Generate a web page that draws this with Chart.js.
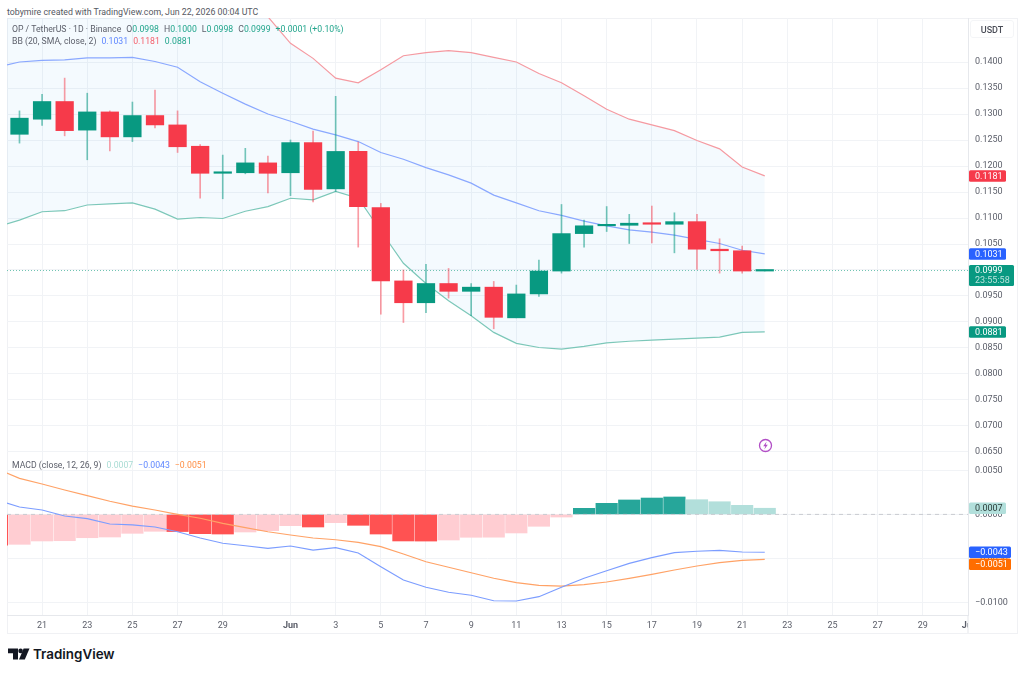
<!DOCTYPE html>
<html lang="en">
<head>
<meta charset="utf-8">
<title>OP / TetherUS 1D</title>
<script src="https://cdn.jsdelivr.net/npm/chart.js@4/dist/chart.umd.min.js"></script>
<style>
  html, body { margin: 0; padding: 0; background: #fff; }
  body { width: 1024px; height: 674px; position: relative; overflow: hidden; font-family: Roboto, "Noto Sans", sans-serif; color: #5d606b; }
  canvas { position: absolute; left: 0; }
  #priceChart { top: 18px; }
  #macdChart { top: 454px; }
  .frame { position: absolute; left: 7px; top: 18px; width: 1009px; height: 614px; border: 1px solid #f0f1f4; }
  .txt { position: absolute; white-space: nowrap; font-size: 8.7px; line-height: 12px; }
  .up { color: #22a58c; }
  .blue { color: #5f87ff; }
  .red { color: #f4606c; }
  .orange { color: #ff8f45; }
  .pale { color: #a9dcd4; }
  .gap { margin-left: 5px; }
  #credit { left: 7px; top: 5.500px; font-size: 8.8px; color: #555862; }
  #unit { left: 970px; top: 20px; width: 44px; height: 18px; line-height: 18px; text-align: center; border: 1px solid #f4f5f7; border-radius: 3px; box-sizing: border-box; color: #4a4d57; font-weight: 500; font-size: 9px; }
  #logoText { left: 33px; top: 645px; font-family: Inter, sans-serif; font-size: 13.4px; line-height: 18px; font-weight: 600; color: #131722; }
  svg { position: absolute; }
</style>
</head>
<body>
<div class="frame"></div>
<canvas id="priceChart" width="1024" height="436"></canvas>
<canvas id="macdChart" width="1024" height="179"></canvas>

<div class="txt" id="credit">tobymire created with TradingView.com, Jun 22, 2026 00:04 UTC</div>
<div class="txt" id="unit">USDT</div>
<div class="txt" style="left:12px;top:23px">OP / TetherUS · 1D · Binance<span class="gap">O</span><span class="up">0.0998</span><span class="gap">H</span><span class="up">0.1000</span><span class="gap">L</span><span class="up">0.0998</span><span class="gap">C</span><span class="up">0.0999</span><span class="up gap">+0.0001 (+0.10%)</span></div>
<div class="txt" style="left:12px;top:35px">BB (20, SMA, close, 2)<span class="blue gap">0.1031</span><span class="red gap">0.1181</span><span class="up gap">0.0881</span></div>
<div class="txt" style="left:12px;top:459px">MACD (close, 12, 26, 9)<span class="pale gap">0.0007</span><span class="blue gap">−0.0043</span><span class="orange gap">−0.0051</span></div>

<!-- bolt marker on the price pane -->
<svg style="left:758px;top:438px" width="15" height="15" viewBox="0 0 15 15">
  <circle cx="7.5" cy="7.5" r="6" fill="#fff" stroke="#b24fc6" stroke-width="1.3"/>
  <path d="M8.6 3.6 5.2 8.2h2.1l-1 3.2 3.5-4.7H7.7z" fill="#b24fc6"/>
</svg>

<!-- wordmark -->
<svg style="left:8px;top:648px" width="22" height="12" viewBox="0 0 22 12">
  <path d="M0 .5h10v11H5V5.2H0z" fill="#131722"/>
  <circle cx="12.6" cy="2.9" r="2.3" fill="#131722"/>
  <path d="M15.6.5H21.500L16.800 11.500H11z" fill="#131722"/>
</svg>
<div class="txt" id="logoText">TradingView</div>

<script>
// ── Days, counted from May 19 = 0 ─────────────────────────────────────────────
const tickDays   = [2, 4, 6, 8, 10, 13, 15, 17, 19, 21, 23, 25, 27, 29, 31, 33, 35, 37, 39, 41, 43];
const tickLabels = ['21', '23', '25', '27', '29', 'Jun', '3', '5', '7', '9', '11', '13', '15', '17', '19', '21', '23', '25', '27', '29', 'Jul'];
const monthTicks = ['Jun', 'Jul'];

// ── Candles ───────────────────────────────────────────────────────────────────
const opens = [null, 0.1261, 0.1290, 0.1324, 0.1269, 0.1304, 0.1256, 0.1297, 0.1279, 0.1238, 0.1186, 0.1187, 0.1206,
    0.1187, 0.1245, 0.1156, 0.1228, 0.1120, 0.0979, 0.0937, 0.0974, 0.0959, 0.0967, 0.0908, 0.0954, 0.0998,
    0.1070, 0.1085, 0.1086, 0.1090, 0.1088, 0.1093, 0.1040, 0.1037, 0.0998];
const closes = [null, 0.1292, 0.1324, 0.1268, 0.1304, 0.1256, 0.1297, 0.1279, 0.1237, 0.1186, 0.1187, 0.1206, 0.1186,
    0.1245, 0.1155, 0.1228, 0.1122, 0.0979, 0.0937, 0.0974, 0.0959, 0.0967, 0.0909, 0.0954, 0.0998, 0.1070,
    0.1085, 0.1087, 0.1090, 0.1088, 0.1093, 0.1040, 0.1037, 0.0998, 0.0999];
const highs = [null, 0.1306, 0.1338, 0.1369, 0.1340, 0.1306, 0.1323, 0.1346, 0.1306, 0.1241, 0.1221, 0.1234, 0.1219,
    0.1250, 0.1267, 0.1334, 0.1246, 0.1128, 0.1000, 0.1011, 0.1003, 0.0974, 0.0978, 0.0971, 0.1019, 0.1126,
    0.1096, 0.1122, 0.1107, 0.1123, 0.1110, 0.1107, 0.1060, 0.1046, 0.1000];
const lows = [null, 0.1244, 0.1278, 0.1258, 0.1212, 0.1229, 0.1247, 0.1273, 0.1226, 0.1138, 0.1137, 0.1185, 0.1148,
    0.1143, 0.1131, 0.1151, 0.1044, 0.0915, 0.0899, 0.0918, 0.0946, 0.0912, 0.0887, 0.0908, 0.0949, 0.0994,
    0.1044, 0.1074, 0.1051, 0.1052, 0.1033, 0.1001, 0.0994, 0.0994, 0.0998];

// ── Bollinger bands ───────────────────────────────────────────────────────────
const bbUpper = [0.1697, 0.1704, 0.1694, 0.1694, 0.1691, 0.1689, 0.1689, 0.1685, 0.1682, 0.1623, 0.1581, 0.1525, 0.1487,
    0.1436, 0.1407, 0.1369, 0.1360, 0.1385, 0.1412, 0.1418, 0.1422, 0.1418, 0.1409, 0.1400, 0.1378, 0.1360,
    0.1335, 0.1309, 0.1290, 0.1279, 0.1268, 0.1249, 0.1233, 0.1198, 0.1181];
const bbBasis = [0.1390, 0.1400, 0.1403, 0.1404, 0.1408, 0.1408, 0.1409, 0.1401, 0.1390, 0.1362, 0.1340, 0.1319, 0.1300,
    0.1286, 0.1271, 0.1260, 0.1247, 0.1226, 0.1213, 0.1197, 0.1183, 0.1167, 0.1144, 0.1129, 0.1114, 0.1105,
    0.1094, 0.1085, 0.1077, 0.1073, 0.1067, 0.1059, 0.1051, 0.1038, 0.1031];
const bbLower = [0.1083, 0.1096, 0.1112, 0.1114, 0.1125, 0.1127, 0.1129, 0.1117, 0.1098, 0.1101, 0.1099, 0.1113, 0.1122,
    0.1138, 0.1135, 0.1151, 0.1138, 0.1075, 0.1013, 0.0974, 0.0941, 0.0912, 0.0880, 0.0859, 0.0851, 0.0848,
    0.0853, 0.0860, 0.0863, 0.0865, 0.0867, 0.0869, 0.0871, 0.0880, 0.0881];

// ── MACD ──────────────────────────────────────────────────────────────────────
const macdHist = [-0.00351, -0.00340, -0.00302, -0.00299, -0.00265, -0.00257, -0.00215, -0.00192, -0.00195, -0.00219, -0.00223, -0.00200, -0.00185,
    -0.00128, -0.00143, -0.00094, -0.00124, -0.00223, -0.00302, -0.00303, -0.00291, -0.00260, -0.00259, -0.00211, -0.00135, -0.00030,
    0.00069, 0.00126, 0.00164, 0.00186, 0.00198, 0.00167, 0.00144, 0.00103, 0.00070];
const macdLine = [0.00164, 0.00084, 0.00050, -0.00018, -0.00049, -0.00109, -0.00120, -0.00143, -0.00197, -0.00268, -0.00328, -0.00356, -0.00385,
    -0.00359, -0.00405, -0.00378, -0.00439, -0.00594, -0.00745, -0.00828, -0.00885, -0.00919, -0.00981, -0.00984, -0.00935, -0.00828,
    -0.00726, -0.00640, -0.00556, -0.00492, -0.00435, -0.00419, -0.00408, -0.00427, -0.00430];
const signalLine = [0.00516, 0.00410, 0.00345, 0.00277, 0.00213, 0.00149, 0.00095, 0.00050, 0.00001, -0.00044, -0.00101, -0.00151, -0.00197,
    -0.00234, -0.00268, -0.00288, -0.00317, -0.00367, -0.00450, -0.00538, -0.00601, -0.00663, -0.00726, -0.00776, -0.00806, -0.00814,
    -0.00799, -0.00768, -0.00726, -0.00681, -0.00632, -0.00586, -0.00549, -0.00522, -0.00510];

// ── Axis values ───────────────────────────────────────────────────────────────
const priceTicks = [0.14, 0.135, 0.13, 0.125, 0.12, 0.115, 0.11, 0.105, 0.10, 0.095, 0.09, 0.085, 0.08, 0.075, 0.07, 0.065];
const macdTicks  = [0.005, 0, -0.005, -0.01];
const lastPrice  = 0.0999;

// ── Shared look ───────────────────────────────────────────────────────────────
const FONT       = 'Roboto, "Noto Sans", sans-serif';
const FONT_SIZE  = 9;
const GREEN      = '#089981';
const RED        = '#f63a4a';
const GRID       = '#f1f3f6';
const AXIS_LINE  = '#e6e8ec';
const TICK_COLOR = '#5d606b';
const DAY_MIN    = 0.447;
const DAY_MAX    = 43;
const AXIS_WIDTH = 49;

const lineStyle = (color, width = 1.2) => ({
    type: 'line', borderColor: color, borderWidth: width, pointRadius: 0, tension: 0,
});
const series = (values) => values.map((y, x) => ({ x, y }));
const formatTick = (v) => v.toFixed(4).replace('-', '−');
// Scale padding would otherwise shrink the pane by half a label.
const noPadding = (scale) => {
    scale.paddingTop = scale.paddingBottom = scale.paddingLeft = scale.paddingRight = 0;
};

function roundRect(ctx, x, y, w, h, r, fill) {
    ctx.beginPath();
    ctx.roundRect(x, y, w, h, r);
    ctx.fillStyle = fill;
    ctx.fill();
}

// Price tags sit on the axis at their own value; `shift` nudges the ones that would collide.
const badgePlugin = (tags) => ({
    id: 'axisBadges',
    afterDraw(chart) {
        const { ctx, scales: { y }, chartArea } = chart;
        ctx.save();
        ctx.textBaseline = 'middle';
        ctx.font = `${FONT_SIZE}px ${FONT}`;
        tags.forEach((tag) => {
            const cy = y.getPixelForValue(tag.value) + (tag.shift || 0);
            const h = tag.sub ? 21 : 11.5;
            const top = tag.sub ? cy - 5.5 : cy - h / 2;
            roundRect(ctx, chartArea.right + 1, top, tag.width, h, 1.5, tag.bg);
            ctx.fillStyle = tag.fg;
            ctx.fillText(tag.text, chartArea.right + 7, tag.sub ? cy : cy + 0.5);
            if (tag.sub) {
                ctx.fillStyle = 'rgba(255,255,255,0.72)';
                ctx.fillText(tag.sub, chartArea.right + 7, cy + 10);
            }
        });
        ctx.restore();
    },
});

function baseScales(yMin, yMax, yTicks, xOptions) {
    return {
        x: {
            type: 'linear',
            offset: false,
            min: DAY_MIN,
            max: DAY_MAX,
            afterBuildTicks: (scale) => { scale.ticks = tickDays.map((value) => ({ value })); },
            grid: { color: GRID, drawTicks: false, offset: false },
            ...xOptions,
        },
        y: {
            position: 'right',
            min: yMin,
            max: yMax,
            afterBuildTicks: (scale) => { scale.ticks = yTicks.map((value) => ({ value })); },
            afterFit: (scale) => { scale.width = AXIS_WIDTH; noPadding(scale); },
            grid: { color: GRID, drawTicks: false },
            border: { color: AXIS_LINE },
            ticks: {
                color: TICK_COLOR,
                padding: 7,
                crossAlign: 'near',
                font: { family: FONT, size: FONT_SIZE },
                callback: formatTick,
            },
        },
    };
}

const baseOptions = (scales) => ({
    responsive: false,
    animation: false,
    events: [],
    layout: { padding: { left: 7, right: 7, top: 0, bottom: 0 } },
    plugins: { legend: { display: false }, tooltip: { enabled: false } },
    scales,
});

// ── Price pane ────────────────────────────────────────────────────────────────
const candleColors = closes.map((c, i) => (c >= opens[i] ? GREEN : RED));
const wickColors   = closes.map((c, i) => (c >= opens[i] ? 'rgba(8,153,129,0.55)' : 'rgba(246,58,74,0.5)'));

new Chart(document.getElementById('priceChart'), {
    type: 'bar',
    data: {
        datasets: [
            {
                ...lineStyle('#f59aa1'), data: series(bbUpper), order: 5,
                fill: { target: '+1' }, backgroundColor: 'rgba(33,150,243,0.05)',
            },
            { ...lineStyle('#7fc9b8'), data: series(bbLower), order: 5 },
            { ...lineStyle('#8aa8ff'), data: series(bbBasis), order: 4 },
            {
                ...lineStyle('#6fc4b2', 1), borderDash: [1, 2], order: 3,
                data: [{ x: DAY_MIN, y: lastPrice }, { x: DAY_MAX, y: lastPrice }],
            },
            {
                type: 'bar', grouped: false, barThickness: 1, order: 2, borderWidth: 0,
                backgroundColor: wickColors,
                data: highs.map((h, x) => ({ x, y: h === null ? null : [lows[x], h] })),
            },
            {
                type: 'bar', grouped: false, barThickness: 17.6, minBarLength: 1.5, order: 1, borderWidth: 0,
                backgroundColor: candleColors,
                data: opens.map((o, x) => ({ x, y: o === null ? null : [o, closes[x]] })),
            },
        ],
    },
    options: baseOptions(baseScales(0.064615, 0.148462, priceTicks, {
        afterFit: (scale) => { scale.height = 0; noPadding(scale); },
        ticks: { display: false },
        border: { display: false },
    })),
    plugins: [badgePlugin([
        { value: 0.1181, text: '0.1181', bg: '#f63a4a', fg: '#fff', width: 37 },
        { value: 0.1031, text: '0.1031', bg: '#2962ff', fg: '#fff', width: 37 },
        { value: 0.0999, text: '0.0999', sub: '23:55:58', bg: '#089981', fg: '#fff', width: 45 },
        { value: 0.0881, text: '0.0881', bg: '#089981', fg: '#fff', width: 37 },
    ])],
});

// ── MACD pane ─────────────────────────────────────────────────────────────────
const histColors = macdHist.map((v, i) => {
    const rising = i > 0 && v > macdHist[i - 1];
    if (v >= 0) return rising ? '#26a69a' : '#b2dfdb';
    return rising ? '#ffcdd2' : '#ff5252';
});

// The last date label runs into the axis column and is cut there.
const axisCorner = {
    id: 'axisCorner',
    afterDraw(chart) {
        const { ctx, chartArea: { right, bottom }, height } = chart;
        ctx.save();
        ctx.fillStyle = '#fff';
        ctx.fillRect(right, bottom + 1, AXIS_WIDTH, height - bottom - 2);
        ctx.fillStyle = AXIS_LINE;
        ctx.fillRect(right - 0.5, bottom, 1, height - bottom);
        ctx.restore();
    },
};

new Chart(document.getElementById('macdChart'), {
    type: 'bar',
    data: {
        datasets: [
            {
                ...lineStyle('#c9cbd1', 1), borderDash: [4, 4], order: 2,
                data: [{ x: DAY_MIN, y: 0 }, { x: DAY_MAX, y: 0 }],
            },
            { ...lineStyle('#ffa266'), data: series(signalLine), order: 1 },
            { ...lineStyle('#7c9dff'), data: series(macdLine), order: 0 },
            {
                type: 'bar', grouped: false, barThickness: 21.5, order: 3, borderWidth: 0,
                backgroundColor: histColors,
                data: series(macdHist),
            },
        ],
    },
    options: baseOptions(baseScales(-0.011432, 0.006864, macdTicks, {
        afterFit: (scale) => { scale.height = 18; noPadding(scale); },
        border: { color: AXIS_LINE },
        ticks: {
            color: TICK_COLOR,
            padding: 5,
            maxRotation: 0,
            autoSkip: false,
            font: (ctx) => ({
                family: FONT,
                size: FONT_SIZE,
                weight: monthTicks.includes(tickLabels[tickDays.indexOf(ctx.tick && ctx.tick.value)]) ? '700' : '400',
            }),
            callback: (value) => tickLabels[tickDays.indexOf(value)],
        },
    })),
    plugins: [axisCorner, badgePlugin([
        { value: 0.0007, text: '0.0007', bg: '#b2dfdb', fg: '#2c3e3a', width: 37 },
        { value: -0.0043, text: '−0.0043', bg: '#2962ff', fg: '#fff', width: 42 },
        { value: -0.0051, text: '−0.0051', shift: 5, bg: '#ff6d00', fg: '#fff', width: 42 },
    ])],
});
</script>
</body>
</html>
